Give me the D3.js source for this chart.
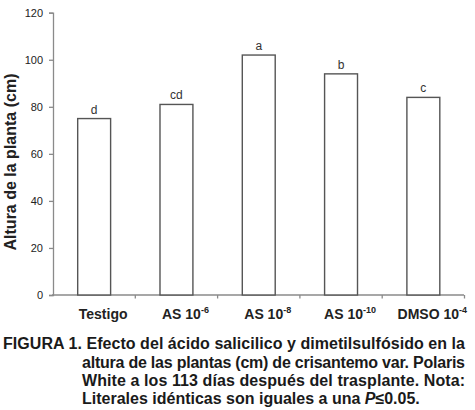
<!DOCTYPE html>
<html><head><meta charset="utf-8">
<script src="https://cdn.jsdelivr.net/npm/d3@7"></script>
<style>body{margin:0;background:#fff}svg{display:block}text{font-family:"Liberation Sans",Arial,sans-serif}</style>
</head><body>
<svg id="c" width="475" height="410"></svg>
<script>
const categories = ["Testigo", "AS 10", "AS 10", "AS 10", "DMSO 10"];
const exponents = ["", "-6", "-8", "-10", "-4"];
const values = [75, 81, 102, 94, 84];
const letters = ["d", "cd", "a", "b", "c"];
const yTicks = [0, 20, 40, 60, 80, 100, 120];
const captionLines = [
  "FIGURA 1. Efecto del ácido salicilico y dimetilsulfósido en la",
  "altura de las plantas (cm) de crisantemo var. Polaris",
  "White a los 113 días después del trasplante. Nota:"
];
const captionLast = ["Literales idénticas son iguales a una ", "P", "≤0.05."];

const svg = d3.select("#c");
const idx = d3.range(categories.length);
const x = d3.scaleBand().domain(idx).range([53, 464.5]).paddingInner(0.6).paddingOuter(0.3);
const y = d3.scaleLinear().domain([0, 120]).range([295, 12.7]);
const axisCol = "#8a8a8a";

// y axis
const ya = svg.append("g").attr("transform", "translate(53,0)")
  .call(d3.axisLeft(y).tickValues(yTicks).tickSize(4).tickPadding(6));
ya.select(".domain").attr("stroke", axisCol).attr("stroke-width", 1.3);
ya.selectAll(".tick line").attr("stroke", axisCol).attr("stroke-width", 1.3);
ya.selectAll(".tick text").attr("font-size", 11).attr("fill", "#222")
  .attr("font-family", '"Liberation Sans",Arial,sans-serif');

// x axis line
svg.append("line").attr("x1", 52).attr("x2", 464).attr("y1", y(0)).attr("y2", y(0))
  .attr("stroke", axisCol).attr("stroke-width", 1.3);
// x ticks at boundaries
const step = x.step();
svg.selectAll(".xt").data(idx).enter().append("line")
  .attr("x1", d => x(d) + x.bandwidth() + step * 0.3)
  .attr("x2", d => x(d) + x.bandwidth() + step * 0.3)
  .attr("y1", y(0)).attr("y2", y(0) + 3.5)
  .attr("stroke", axisCol).attr("stroke-width", 1.3);

// bars
svg.selectAll(".bar").data(idx).enter().append("rect")
  .attr("x", d => x(d)).attr("width", x.bandwidth())
  .attr("y", d => y(values[d])).attr("height", d => y(0) - y(values[d]))
  .attr("fill", "#fff").attr("stroke", "#555").attr("stroke-width", 1.4);

// letters
svg.selectAll(".lt").data(idx).enter().append("text")
  .attr("x", d => x(d) + x.bandwidth() / 2).attr("y", d => y(values[d]) - 5)
  .attr("text-anchor", "middle").attr("font-size", 12).attr("fill", "#333")
  .text(d => letters[d]);

// x labels
const xl = svg.selectAll(".xl").data(idx).enter().append("text")
  .attr("x", d => x(d) + x.bandwidth() / 2 + 9).attr("y", 319)
  .attr("text-anchor", "middle").attr("font-size", 14).attr("font-weight", "bold").attr("fill", "#222");
xl.append("tspan").text(d => categories[d]);
xl.append("tspan").attr("font-size", 9).attr("dy", -6).text(d => exponents[d]);

// y label
svg.append("text").attr("transform", "translate(16,162) rotate(-90)")
  .attr("text-anchor", "middle").attr("font-size", 16).attr("font-weight", "bold").attr("fill", "#222")
  .text("Altura de la planta (cm)");

// caption
const capX = [3, 82, 82];
const capW = [462, 383, 383];
const capY = [349, 367.5, 385.5, 403.5];
captionLines.forEach((t, i) => {
  svg.append("text").attr("x", capX[i]).attr("y", capY[i])
    .attr("font-size", 16).attr("font-weight", "bold").attr("fill", "#1a1a1a")
    .attr("textLength", capW[i]).attr("lengthAdjust", "spacing").text(t);
});
const last = svg.append("text").attr("x", 82).attr("y", capY[3])
  .attr("font-size", 16).attr("font-weight", "bold").attr("fill", "#1a1a1a");
last.append("tspan").text(captionLast[0]);
last.append("tspan").attr("font-style", "italic").text(captionLast[1]);
last.append("tspan").text(captionLast[2]);
</script>
</body></html>
